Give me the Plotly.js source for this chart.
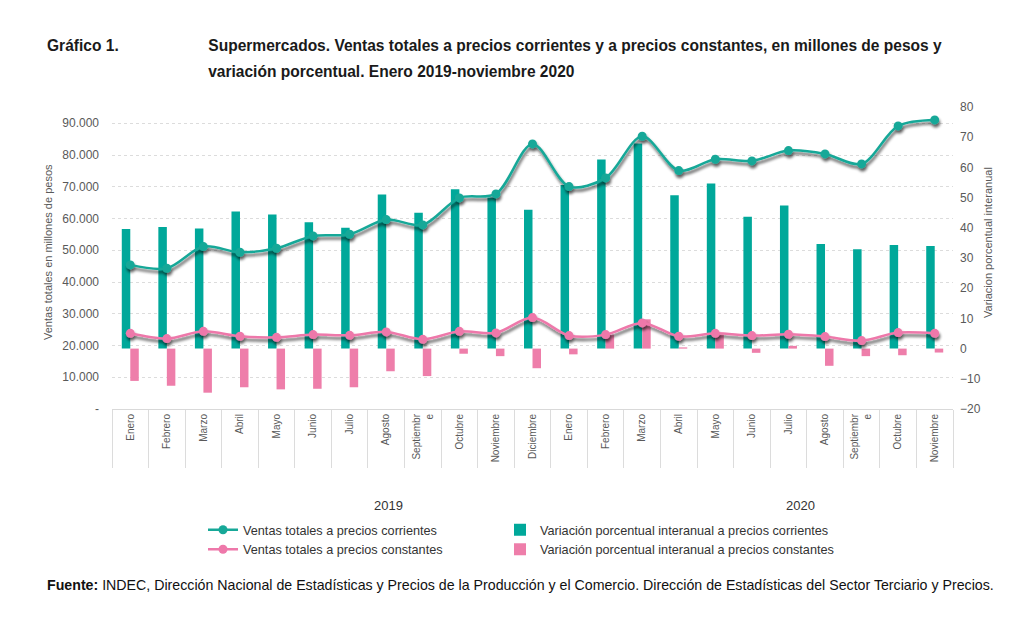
<!DOCTYPE html>
<html>
<head>
<meta charset="utf-8">
<script src="https://cdn.plot.ly/plotly-3.0.1.min.js"></script>
<style>
  html, body { margin: 0; padding: 0; background: #ffffff; }
  #chart { width: 1024px; height: 620px; }
</style>
</head>
<body>
<div id="chart"></div>
<script>
// Meses (enero 2019 - noviembre 2020)
const meses = [
  "Enero", "Febrero", "Marzo", "Abril", "Mayo", "Junio", "Julio", "Agosto",
  "Septiembr<br>e", "Octubre", "Noviembre", "Diciembre",
  "Enero", "Febrero", "Marzo", "Abril", "Mayo", "Junio", "Julio", "Agosto",
  "Septiembr<br>e", "Octubre", "Noviembre"
];
const anios = ["2019", "2020"];

// Ventas totales, en millones de pesos
const ventasCorrientes = [
  45390, 44320, 51150, 49360, 50620, 54520, 55030, 59650, 57980, 66490, 67750, 83500,
  70050, 72790, 85890, 75090, 78650, 78140, 81390, 80340, 77200, 89170, 91060
];
const ventasConstantes = [
  23840, 22170, 24470, 22900, 22580, 23430, 23210, 24280, 21950, 24470, 23970, 28790,
  23120, 23430, 27120, 22900, 23840, 23120, 23530, 22800, 21540, 24060, 23840
];

// Variación porcentual interanual
const varCorrientes = [
  39.6, 40.3, 39.8, 45.4, 44.4, 41.8, 40.0, 51.0, 45.0, 52.8, 50.0, 46.0,
  54.2, 62.6, 67.9, 50.8, 54.7, 43.7, 47.4, 34.6, 32.9, 34.3, 34.0
];
const varConstantes = [
  -10.7, -12.3, -14.6, -12.8, -13.5, -13.3, -12.8, -7.5, -9.1, -1.7, -2.5, -6.5,
  -1.9, 4.6, 9.7, 0.4, 4.7, -1.4, 0.9, -5.7, -2.5, -2.2, -1.3
];

// Escala izquierda
const ticksVentas = [0, 10000, 20000, 30000, 40000, 50000, 60000, 70000, 80000, 90000];
const ticksVentasTexto = ["-", "10.000", "20.000", "30.000", "40.000", "50.000", "60.000", "70.000", "80.000", "90.000"];

const idx = meses.map((_, i) => i);

const VERDE = "#00a89a";
const ROSA = "#ee7eaa";
const LINEA_VERDE = "#17a898";
const LINEA_ROSA = "#ee78aa";
const GRIS = "#595959";
const FUENTE = "Liberation Sans, Arial, sans-serif";

// Área de trazado en píxeles
const M = { l: 112, r: 71, t: 107, b: 211 };
const W = 1024, H = 620;
const pw = W - M.l - M.r, ph = H - M.t - M.b;
const px = x => (x - M.l) / pw;
const py = y => (H - M.b - y) / ph;

const traces = [
  {
    type: "bar", x: idx, y: varCorrientes, yaxis: "y",
    name: "Variación porcentual interanual a precios corrientes",
    marker: { color: VERDE }, legend: "legend2", hoverinfo: "y"
  },
  {
    type: "bar", x: idx, y: varConstantes, yaxis: "y",
    name: "Variación porcentual interanual a precios constantes",
    marker: { color: ROSA }, legend: "legend2", hoverinfo: "y"
  },
  {
    type: "scatter", mode: "lines+markers", x: idx, y: ventasCorrientes, yaxis: "y2",
    name: "Ventas totales a precios corrientes",
    line: { color: LINEA_VERDE, width: 2.5, shape: "spline", smoothing: 0.9 },
    marker: { color: LINEA_VERDE, size: 9 }, legend: "legend"
  },
  {
    type: "scatter", mode: "lines+markers", x: idx, y: ventasConstantes, yaxis: "y2",
    name: "Ventas totales a precios constantes",
    line: { color: LINEA_ROSA, width: 2.5, shape: "spline", smoothing: 0.9 },
    marker: { color: LINEA_ROSA, size: 9 }, legend: "legend"
  }
];

const titulo = { family: FUENTE, size: 17, color: "#1a1a1a" };
const leyenda = (x0) => ({
  orientation: "v",
  x: px(x0), xanchor: "left",
  y: py(515), yanchor: "top",
  traceorder: "normal",
  tracegroupgap: 0,
  font: { size: 12.7, color: "#333333", family: FUENTE },
  bgcolor: "rgba(0,0,0,0)",
  itemwidth: 30
});

const layout = {
  width: W, height: H,
  margin: M,
  paper_bgcolor: "#ffffff",
  plot_bgcolor: "rgba(0,0,0,0)",
  font: { family: FUENTE, color: GRIS, size: 11 },
  showlegend: true,
  barmode: "group",
  bargap: 0.535,
  bargroupgap: 0,
  xaxis: {
    range: [-0.5, meses.length - 0.5],
    tickmode: "array", tickvals: idx, ticktext: meses,
    tickangle: -90,
    tickfont: { size: 10, color: GRIS, family: FUENTE },
    ticks: "",
    showline: true, linecolor: "#d9d9d9", linewidth: 1,
    showgrid: false, zeroline: false,
    minor: { tick0: -0.5, dtick: 1, ticks: "outside", ticklen: 58, tickcolor: "#dcdcdc", tickwidth: 1, showgrid: false },
    fixedrange: true
  },
  yaxis: {
    side: "right",
    range: [-20, 80], dtick: 10, tick0: 0,
    showgrid: false, zeroline: false, showline: false,
    tickfont: { size: 12, color: GRIS, family: FUENTE },
    ticklabelstandoff: 6,
    fixedrange: true
  },
  yaxis2: {
    overlaying: "y", side: "left",
    range: [0, 95118],
    tickmode: "array", tickvals: ticksVentas, ticktext: ticksVentasTexto,
    showgrid: true, gridcolor: "#dcdcdc", griddash: "3px,3px", gridwidth: 1,
    zeroline: false, showline: false,
    tickfont: { size: 12, color: GRIS, family: FUENTE },
    ticklabelstandoff: 12,
    fixedrange: true
  },
  legend: leyenda(203),
  legend2: leyenda(500),
  annotations: [
    {
      xref: "paper", yref: "paper", x: px(45), y: py(45), xanchor: "left", yanchor: "middle",
      text: "<b>Gráfico 1.</b>", showarrow: false, font: titulo
    },
    {
      xref: "paper", yref: "paper", x: px(206), y: py(45), xanchor: "left", yanchor: "middle",
      text: "<b>Supermercados. Ventas totales a precios corrientes y a precios constantes, en millones de pesos y</b>",
      showarrow: false, font: titulo
    },
    {
      xref: "paper", yref: "paper", x: px(206), y: py(72), xanchor: "left", yanchor: "middle",
      text: "<b>variación porcentual. Enero 2019-noviembre 2020</b>",
      showarrow: false, font: titulo
    },
    {
      xref: "paper", yref: "paper", x: px(48), y: py(252), xanchor: "center", yanchor: "middle",
      text: "Ventas totales en millones de pesos", textangle: -90, showarrow: false,
      font: { family: FUENTE, size: 11, color: GRIS }
    },
    {
      xref: "paper", yref: "paper", x: px(988), y: py(243), xanchor: "center", yanchor: "middle",
      text: "Variacion porcentual interanual", textangle: -90, showarrow: false,
      font: { family: FUENTE, size: 11, color: GRIS }
    },
    {
      xref: "paper", yref: "paper", x: px(388), y: py(505), xanchor: "center", yanchor: "middle",
      text: anios[0], showarrow: false,
      font: { family: FUENTE, size: 13, color: "#333333" }
    },
    {
      xref: "paper", yref: "paper", x: px(800), y: py(505), xanchor: "center", yanchor: "middle",
      text: anios[1], showarrow: false,
      font: { family: FUENTE, size: 13, color: "#333333" }
    },
    {
      xref: "paper", yref: "paper", x: px(45), y: py(585), xanchor: "left", yanchor: "middle",
      text: "<b>Fuente:</b> INDEC, Dirección Nacional de Estadísticas y Precios de la Producción y el Comercio. Dirección de Estadísticas del Sector Terciario y Precios.",
      showarrow: false,
      font: { family: FUENTE, size: 14.2, color: "#111111" }
    }
  ]
};

Plotly.newPlot("chart", traces, layout, { displayModeBar: false, staticPlot: true }).then(gd => {
  const ns = "http://www.w3.org/2000/svg";
  const svg = gd.querySelector("svg.main-svg");
  let defs = svg.querySelector("defs");
  if (!defs) { defs = document.createElementNS(ns, "defs"); svg.insertBefore(defs, svg.firstChild); }

  // sombra gris bajo las líneas de ventas
  const f = document.createElementNS(ns, "filter");
  f.setAttribute("id", "sombra-lineas");
  f.setAttribute("filterUnits", "userSpaceOnUse");
  f.setAttribute("x", "-300"); f.setAttribute("y", "-300");
  f.setAttribute("width", "1600"); f.setAttribute("height", "1200");
  f.innerHTML =
    '<feGaussianBlur in="SourceAlpha" stdDeviation="1.4" result="b"/>' +
    '<feOffset in="b" dx="1" dy="3" result="o"/>' +
    '<feComponentTransfer in="o" result="s"><feFuncA type="linear" slope="0.65"/></feComponentTransfer>' +
    '<feMerge><feMergeNode in="s"/><feMergeNode in="SourceGraphic"/></feMerge>';
  defs.appendChild(f);
  gd.querySelectorAll(".scatterlayer .trace").forEach(g => g.setAttribute("filter", "url(#sombra-lineas)"));

  // títulos en letra condensada
  gd.querySelectorAll(".annotation").forEach(a => {
    const t = a.querySelector("text");
    if (!t || !/Gráfico|Supermercados|variación porcentual\./.test(t.textContent)) return;
    t.style.transformBox = "fill-box";
    t.style.transformOrigin = "left center";
    t.style.transform = "scaleX(0.915)";
  });
});
</script>
</body>
</html>
